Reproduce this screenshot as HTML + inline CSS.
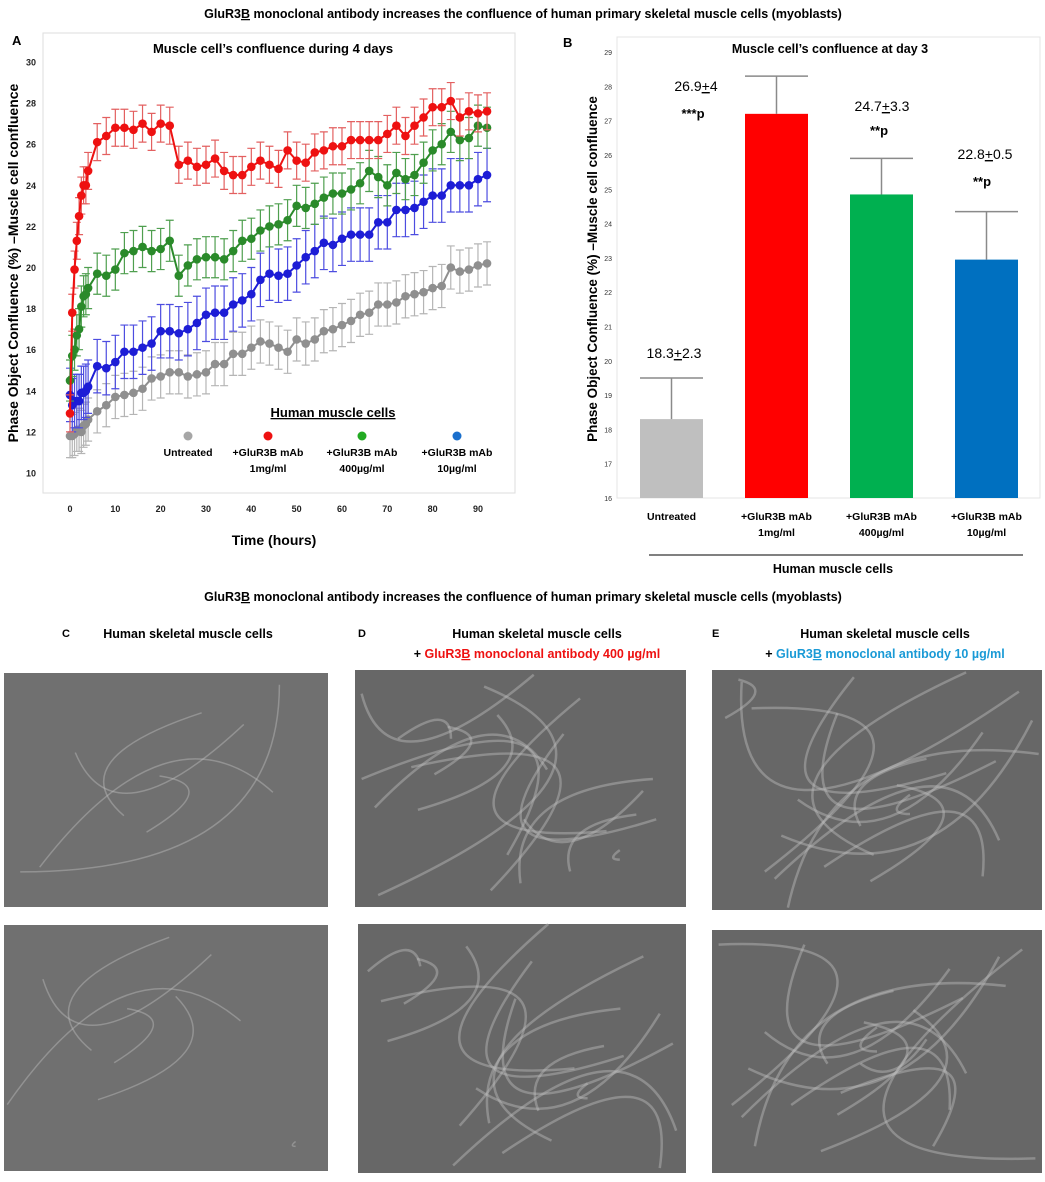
<!DOCTYPE html>
<html><head><meta charset="utf-8">
<style>
body{margin:0;background:#fff;width:1045px;height:1177px;overflow:hidden;font-family:"Liberation Sans",sans-serif;}
svg text{font-family:"Liberation Sans",sans-serif;}
</style></head>
<body>
<svg id="fig" width="1045" height="1177" viewBox="0 0 1045 1177">
<text x="523" y="18" text-anchor="middle" font-size="12.5" font-weight="bold">GluR3<tspan text-decoration="underline">B</tspan> monoclonal antibody increases the confluence of human primary skeletal muscle cells (myoblasts)</text>
<g id="panelA">
<rect x="43" y="33" width="472" height="460" fill="none" stroke="#ddd"/>
<text x="12" y="45" font-size="13" font-weight="bold">A</text>
<text x="273" y="53" text-anchor="middle" font-size="13" font-weight="bold">Muscle cell’s confluence during 4 days</text>
<text x="274" y="545" text-anchor="middle" font-size="14" font-weight="bold">Time (hours)</text>
<text transform="translate(18,263) rotate(-90)" text-anchor="middle" font-size="14" font-weight="bold">Phase Object Confluence (%) –Muscle cell confluence</text>
<g id="axA"></g><g id="seriesA"></g>
<text x="333" y="417" text-anchor="middle" font-size="13" font-weight="bold" text-decoration="underline">Human muscle cells</text>
<g id="legA" font-size="10.5" font-weight="bold" text-anchor="middle"></g>
</g>
<g id="panelB">
<rect x="617" y="37" width="423" height="461" fill="none" stroke="#e4e4e4"/>
<text x="563" y="47" font-size="13" font-weight="bold">B</text>
<text x="830" y="53" text-anchor="middle" font-size="12.5" font-weight="bold">Muscle cell’s confluence at day 3</text>
<text transform="translate(597,269) rotate(-90)" text-anchor="middle" font-size="13.5" font-weight="bold">Phase Object Confluence (%) –Muscle cell confluence</text>
<g id="axB"></g><g id="barsB"></g>
<line x1="649" y1="555" x2="1023" y2="555" stroke="#000"/>
<text x="833" y="573" text-anchor="middle" font-size="12.5" font-weight="bold">Human muscle cells</text>
</g>
<text x="523" y="601" text-anchor="middle" font-size="12.5" font-weight="bold">GluR3<tspan text-decoration="underline">B</tspan> monoclonal antibody increases the confluence of human primary skeletal muscle cells (myoblasts)</text>
<text x="62" y="637" font-size="11" font-weight="bold">C</text>
<text x="188" y="638" text-anchor="middle" font-size="12.5" font-weight="bold">Human skeletal muscle cells</text>
<text x="358" y="637" font-size="11" font-weight="bold">D</text>
<text x="537" y="638" text-anchor="middle" font-size="12.5" font-weight="bold">Human skeletal muscle cells</text>
<text x="537" y="658" text-anchor="middle" font-size="12.5" font-weight="bold">+ <tspan fill="#ee1111">GluR3<tspan text-decoration="underline">B</tspan> monoclonal antibody 400 µg/ml</tspan></text>
<text x="712" y="637" font-size="11" font-weight="bold">E</text>
<text x="885" y="638" text-anchor="middle" font-size="12.5" font-weight="bold">Human skeletal muscle cells</text>
<text x="885" y="658" text-anchor="middle" font-size="12.5" font-weight="bold">+ <tspan fill="#1a9ad6">GluR3<tspan text-decoration="underline">B</tspan> monoclonal antibody 10 µg/ml</tspan></text>
<g id="imgs"></g>
</svg>
<script>
// ---- Panel A data ----
const timesA=[0,0.5,1,1.5,2,2.5,3,3.5,4,6,8,10,12,14,16,18,20,22,24,26,28,30,32,34,36,38,40,42,44,46,48,50,52,54,56,58,60,62,64,66,68,70,72,74,76,78,80,82,84,86,88,90,92];
const redA=[12.9,17.8,19.9,21.3,22.5,23.5,24,24,24.7,26.1,26.4,26.8,26.8,26.7,27,26.6,27,26.9,25,25.2,24.9,25,25.3,24.7,24.5,24.5,24.9,25.2,25,24.8,25.7,25.2,25.1,25.6,25.7,25.9,25.9,26.2,26.2,26.2,26.2,26.5,26.9,26.4,26.9,27.3,27.8,27.8,28.1,27.3,27.6,27.5,27.6];
const greenA=[14.5,15.7,16,16.7,17,18.1,18.6,18.7,19,19.7,19.6,19.9,20.7,20.8,21,20.8,20.9,21.3,19.6,20.1,20.4,20.5,20.5,20.4,20.8,21.3,21.4,21.8,22,22.1,22.3,23,22.9,23.1,23.4,23.6,23.6,23.8,24.1,24.7,24.4,24,24.6,24.3,24.5,25.1,25.7,26,26.6,26.2,26.3,26.9,26.8];
const blueA=[13.8,13.3,13.5,13.5,13.5,13.9,13.9,14,14.2,15.2,15.1,15.4,15.9,15.9,16.1,16.3,16.9,16.9,16.8,17,17.3,17.7,17.8,17.8,18.2,18.4,18.7,19.4,19.7,19.6,19.7,20.1,20.5,20.8,21.2,21.1,21.4,21.6,21.6,21.6,22.2,22.2,22.8,22.8,22.9,23.2,23.5,23.5,24,24,24,24.3,24.5];
const grayA=[11.8,11.8,11.9,12.1,12.1,12,12.3,12.4,12.6,13,13.3,13.7,13.8,13.9,14.1,14.6,14.7,14.9,14.9,14.7,14.8,14.9,15.3,15.3,15.8,15.8,16.1,16.4,16.3,16.1,15.9,16.5,16.3,16.5,16.9,17,17.2,17.4,17.7,17.8,18.2,18.2,18.3,18.6,18.7,18.8,19,19.1,20,19.8,19.9,20.1,20.2];
const errA=[0.9,1.0,1.3,1.05]; // red, green, blue, gray (approx SD)
const xTicksA=[0,10,20,30,40,50,60,70,80,90];
const yTicksA=[10,12,14,16,18,20,22,24,26,28,30];
const legendLabels=[["Untreated",""],["+GluR3B mAb","1mg/ml"],["+GluR3B mAb","400µg/ml"],["+GluR3B mAb","10µg/ml"]];
// ---- Panel B data ----
const catsB=[["Untreated",""],["+GluR3B mAb","1mg/ml"],["+GluR3B mAb","400µg/ml"],["+GluR3B mAb","10µg/ml"]];
const valsB=[18.3,27.2,24.85,22.95];
const errTopB=[19.5,28.3,25.9,24.35];
const annotB=["18.3+2.3","26.9+4","24.7+3.3","22.8+0.5"];
const sigB=["","***p","**p","**p"];
const yTicksB=[16,17,18,19,20,21,22,23,24,25,26,27,28,29];

const NS="http://www.w3.org/2000/svg";
function mk(tag,attrs,parent){const e=document.createElementNS(NS,tag);for(const k in attrs)e.setAttribute(k,attrs[k]);parent.appendChild(e);return e;}
const xA=t=>70+t*4.533, yA=v=>473-(v-10)*20.55;
const axA=document.getElementById('axA');
yTicksA.forEach(v=>{const t=mk('text',{x:36,y:yA(v)+3.5,'text-anchor':'end','font-size':9,'font-weight':'bold',fill:'#222'},axA);t.textContent=v;

});
xTicksA.forEach(v=>{const t=mk('text',{x:xA(v),y:512,'text-anchor':'middle','font-size':9,'font-weight':'bold',fill:'#222'},axA);t.textContent=v;

});
const sA=document.getElementById('seriesA');
const seriesA=[[grayA,'#8f8f8f','#b5b5b5',errA[3],'gray'],[blueA,'#1d1dd6','#4d4de0',errA[2],'blue'],[greenA,'#2a8a2a','#4f9f4f',errA[1],'green'],[redA,'#ee1111','#e36060',errA[0],'red']];
seriesA.forEach(([vals,col,ecol,err,nm])=>{
  const g=mk('g',{},sA);
  
  
  vals.forEach((v,i)=>{const x=xA(timesA[i]);
    const eb=mk('path',{d:`M${x},${yA(v-err)}V${yA(v+err)}M${x-4},${yA(v-err)}h8M${x-4},${yA(v+err)}h8`,stroke:ecol,'stroke-width':1.2,fill:'none'},g);
    
    });
  const ln=mk('polyline',{points:vals.map((v,i)=>xA(timesA[i])+','+yA(v)).join(' '),stroke:col,'stroke-width':2,fill:'none'},g);
  
  
  vals.forEach((v,i)=>{const c=mk('circle',{cx:xA(timesA[i]),cy:yA(v),r:4.3,fill:col},g);
    
    });
});
const legA=document.getElementById('legA');
const legX=[188,268,362,457], legC=['#a6a6a6','#ee1111','#22aa22','#1a6fcc'];
legendLabels.forEach((l,i)=>{const c=mk('circle',{cx:legX[i],cy:436,r:4.5,fill:legC[i]},legA);
  
  
  const t=mk('text',{x:legX[i],y:456},legA);t.textContent=l[0];
  
  
  if(l[1]){const t2=mk('text',{x:legX[i],y:472},legA);t2.textContent=l[1];
  
  }});
// Panel B
const yB=v=>498-(v-16)*34.3;
const bandX=i=>640+i*105;
const axB=document.getElementById('axB');
yTicksB.forEach(v=>{const t=mk('text',{x:612,y:yB(v)+3,'text-anchor':'end','font-size':7,fill:'#333'},axB);t.textContent=v;

});
const barsB=document.getElementById('barsB');
const colB=['#bfbfbf','#ff0000','#00b050','#0070c0'];
valsB.forEach((v,i)=>{const x=bandX(i),w=63,cx=x+w/2;
  const r=mk('rect',{x:x,y:yB(v),width:w,height:yB(16)-yB(v),fill:colB[i]},barsB);
  
  
  const e=mk('path',{d:`M${cx},${yB(v)}V${yB(errTopB[i])}M${x},${yB(errTopB[i])}h${w}`,stroke:'#8a8a8a','stroke-width':1.5,fill:'none'},barsB);
  
  
  const l1=mk('text',{x:cx,y:520,'text-anchor':'middle','font-size':10.5,'font-weight':'bold'},barsB);l1.textContent=catsB[i][0];
  
  
  if(catsB[i][1]){const l2=mk('text',{x:cx,y:536,'text-anchor':'middle','font-size':10.5,'font-weight':'bold'},barsB);l2.textContent=catsB[i][1];
  
  }
});
const annPos=[[674,358,0],[696,91,118],[882,111,135],[985,159,186]];
annotB.forEach((a,i)=>{const t=mk('text',{x:annPos[i][0],y:annPos[i][1],'text-anchor':'middle','font-size':14},barsB);
  const m=a.split('+');t.innerHTML=m[0]+'<tspan text-decoration="underline">+</tspan>'+m[1];
  
  
  if(sigB[i]){const s=mk('text',{x:annPos[i][0]-3,y:annPos[i][2],'text-anchor':'middle','font-size':13,'font-weight':'bold'},barsB);s.textContent=sigB[i];
  
  }});
// microscopy images (placeholders with texture)
const imgs=document.getElementById('imgs');
const boxes=[[4,673,324,234,'c-top'],[4,925,324,246,'c-bottom'],[355,670,331,237,'d-top'],[358,924,328,249,'d-bottom'],[712,670,330,240,'e-top'],[712,930,330,243,'e-bottom']];
boxes.forEach(([x,y,w,h,n],k)=>{const g=mk('g',{},imgs);
  
  
  mk('rect',{x:x,y:y,width:w,height:h,fill:k<2?'#707070':'#676767'},g);
  const dens=k<2?6:14;
  for(let j=0;j<dens;j++){const a=(j*37+k*53)%100/100,b=(j*61+k*29)%100/100,c=(j*17+k*71)%100/100;
    mk('path',{d:`M${x+a*w},${y+b*h} Q${x+c*w},${y+a*h} ${x+b*w},${y+c*h}`,stroke:'#bcbcbc','stroke-opacity':0.45,'stroke-width':k<2?1.5:2.5,fill:'none'},g);}
});
</script>
</body></html>
